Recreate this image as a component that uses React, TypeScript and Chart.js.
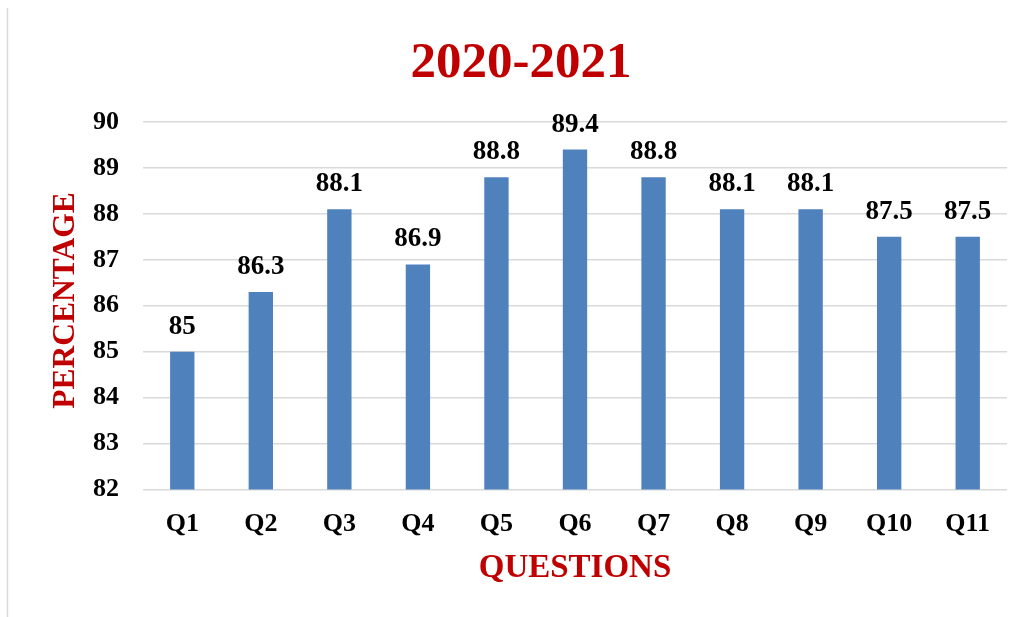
import React, { useEffect, useRef } from "react";
import { Chart, registerables } from "chart.js";

Chart.register(...registerables);

const categories = ["Q1", "Q2", "Q3", "Q4", "Q5", "Q6", "Q7", "Q8", "Q9", "Q10", "Q11"];
const percentages = [85, 86.3, 88.1, 86.9, 88.8, 89.4, 88.8, 88.1, 88.1, 87.5, 87.5];
const titleText = "2020-2021";
const yTitle = "PERCENTAGE";
const xTitle = "QUESTIONS";
const yMin = 82;
const yMax = 90;

const SERIF = "'Liberation Serif', 'Times New Roman', serif";
const RED = "#C00000";

const decorPlugin = {
  id: "decor",
  afterDatasetsDraw(chart: any) {
    const ctx = chart.ctx;
    const meta = chart.getDatasetMeta(0);
    ctx.save();
    ctx.fillStyle = "#000";
    ctx.font = `bold 27px ${SERIF}`;
    ctx.textAlign = "center";
    ctx.textBaseline = "alphabetic";
    meta.data.forEach((bar: any, i: number) => {
      ctx.fillText(String(percentages[i]), bar.x, bar.y - 18);
    });
    ctx.restore();
  },
  afterDraw(chart: any) {
    const ctx = chart.ctx;
    const area = chart.chartArea;
    ctx.save();
    // left frame line
    ctx.strokeStyle = "#d9d9d9";
    ctx.lineWidth = 1.5;
    ctx.beginPath();
    ctx.moveTo(7.5, 8);
    ctx.lineTo(7.5, 617);
    ctx.stroke();
    // title
    ctx.fillStyle = RED;
    ctx.textAlign = "center";
    ctx.textBaseline = "alphabetic";
    ctx.font = `bold 51px ${SERIF}`;
    ctx.fillText(titleText, 521, 77);
    // x title
    ctx.font = `bold 33px ${SERIF}`;
    ctx.fillText(xTitle, (area.left + area.right) / 2, 577);
    // y title
    ctx.translate(74, 300.5);
    ctx.rotate(-Math.PI / 2);
    ctx.font = `bold 31.5px ${SERIF}`;
    ctx.fillText(yTitle, 0, 0);
    ctx.restore();
  },
};

export default function App() {
  const ref = useRef<HTMLCanvasElement | null>(null);
  useEffect(() => {
    if (!ref.current) return;
    const chart = new Chart(ref.current, {
      type: "bar",
      data: {
        labels: categories,
        datasets: [
          {
            data: percentages,
            backgroundColor: "#4F81BD",
            barPercentage: 0.31,
            categoryPercentage: 1,
          },
        ],
      },
      options: {
        responsive: false,
        animation: false,
        layout: { padding: { top: 122, bottom: 67.5, left: 0, right: 19 } },
        plugins: {
          legend: { display: false },
          tooltip: { enabled: false },
          title: { display: false },
        },
        scales: {
          y: {
            min: yMin,
            max: yMax,
            ticks: {
              stepSize: 1,
              color: "#000",
              padding: 24,
              font: { family: SERIF, size: 26, weight: "bold" },
            },
            grid: { color: "#d9d9d9", lineWidth: 1.5, drawTicks: false },
            border: { display: false },
            afterFit(scale: any) {
              scale.width = 143;
            },
          },
          x: {
            ticks: {
              color: "#000",
              padding: 19,
              font: { family: SERIF, size: 26, weight: "bold" },
            },
            grid: { display: false, drawTicks: false },
            border: { display: false },
            afterFit(scale: any) {
              scale.height = 60;
            },
          },
        },
      },
      plugins: [decorPlugin],
    });
    return () => chart.destroy();
  }, []);
  return (
    <div style={{ position: "fixed", left: 0, top: 0, width: 1026, height: 617, background: "#fff" }}>
      <canvas ref={ref} width={1026} height={617} style={{ display: "block" }} />
    </div>
  );
}
